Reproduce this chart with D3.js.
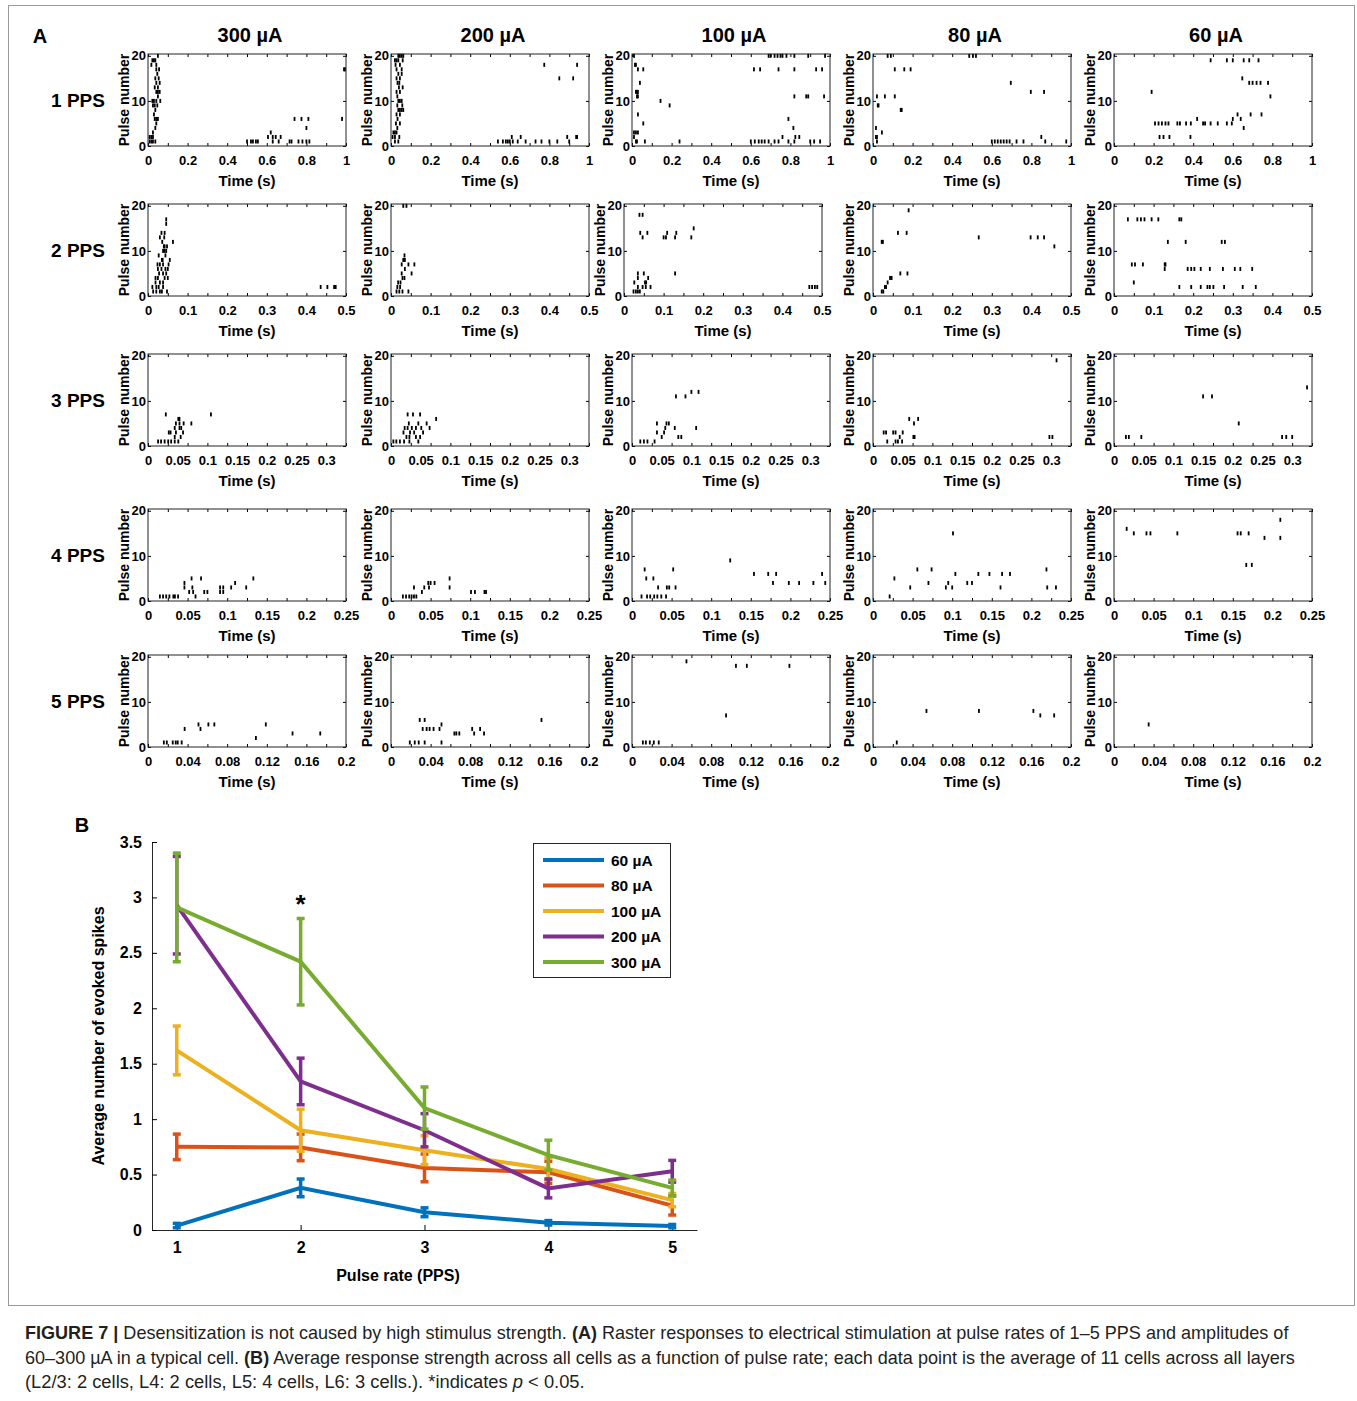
<!DOCTYPE html>
<html>
<head>
<meta charset="utf-8">
<script src="https://cdn.jsdelivr.net/npm/d3@7"></script>
<style>
  body { margin: 0; background: #fff; }
  text { font-family: Arial, 'Liberation Sans', sans-serif; }
</style>
</head>
<body>
<div id="chart"></div>
<script>
// ---------- panel A : raster data, [pulse number, [spike times (s)]] ----------
const ppsRows = ['1 PPS', '2 PPS', '3 PPS', '4 PPS', '5 PPS'];
const ampCols = ['300 µA', '200 µA', '100 µA', '80 µA', '60 µA'];
const rowDuration = [1, 0.5, 1 / 3, 0.25, 0.2];
const rowTickLabels = [
    [0, 0.2, 0.4, 0.6, 0.8, 1],
    [0, 0.1, 0.2, 0.3, 0.4, 0.5],
    [0, 0.05, 0.1, 0.15, 0.2, 0.25, 0.3],
    [0, 0.05, 0.1, 0.15, 0.2, 0.25],
    [0, 0.04, 0.08, 0.12, 0.16, 0.2]
];
const pulseTicks = [0, 10, 20];

const pps1_300 = [
    [20, [0.05]], [19, [0.022, 0.03, 0.037]], [18, [0.017, 0.042]], [17, [0.042, 0.056, 0.99, 0.995]],
    [16, [0.047]], [15, [0.037, 0.054]], [14, [0.042, 0.059]], [13, [0.034, 0.05]],
    [12, [0.042, 0.05, 0.059]], [11, [0.05]], [10, [0.022, 0.03, 0.042, 0.062]], [9, [0.025, 0.034, 0.047]],
    [8, [0.037]], [7, [0.03]], [6, [0.034, 0.042, 0.05, 0.74, 0.775, 0.81, 0.98]], [5, [0.042]],
    [4, [0.037, 0.8]], [3, [0.025, 0.62]], [2, [0.008, 0.017, 0.025, 0.606, 0.63, 0.645, 0.67]],
    [1, [0.008, 0.017, 0.025, 0.037, 0.5, 0.52, 0.53, 0.545, 0.555, 0.63, 0.66, 0.715, 0.725, 0.76, 0.78, 0.8, 0.815]]
];
const pps1_200 = [
    [20, [0.037, 0.045, 0.054, 0.062]], [19, [0.02, 0.028, 0.037, 0.059]], [18, [0.023, 0.045, 0.774, 0.94]],
    [17, [0.028, 0.054]], [16, [0.037, 0.054]], [15, [0.028, 0.045, 0.85, 0.92]], [14, [0.033, 0.042]],
    [13, [0.04, 0.059]], [12, [0.028, 0.045]], [11, [0.032]], [10, [0.037, 0.045, 0.054]],
    [9, [0.032, 0.057]], [8, [0.037, 0.045, 0.054, 0.062]], [7, [0.028, 0.045]], [6, [0.033]],
    [5, [0.025, 0.045]], [4, [0.032]], [3, [0.012, 0.02, 0.028]],
    [2, [0.008, 0.02, 0.042, 0.61, 0.655, 0.89, 0.935, 0.94]],
    [1, [0.02, 0.037, 0.54, 0.565, 0.58, 0.59, 0.6, 0.615, 0.64, 0.68, 0.73, 0.76, 0.8, 0.84, 0.9]]
];
const pps1_100 = [
    [20, [0.01, 0.69, 0.7, 0.72, 0.735, 0.75, 0.76, 0.78, 0.82, 0.89, 0.975]], [18, [0.015, 0.02]],
    [17, [0.03, 0.057, 0.616, 0.647, 0.74, 0.82, 0.93, 0.96]], [14, [0.04]], [12, [0.02, 0.025, 0.03]],
    [11, [0.025, 0.03, 0.82, 0.88, 0.89, 0.97]], [10, [0.144]], [9, [0.19]], [7, [0.03]], [6, [0.79]],
    [5, [0.057]], [4, [0.815]], [3, [0.01, 0.02, 0.03]], [2, [0.01, 0.76, 0.825, 0.845]],
    [1, [0.02, 0.025, 0.065, 0.24, 0.6, 0.62, 0.64, 0.655, 0.67, 0.69, 0.72, 0.74, 0.79, 0.82, 0.9, 0.92, 0.95]]
];
const pps1_80 = [
    [20, [0.074, 0.09, 0.486, 0.505, 0.52]], [17, [0.11, 0.158, 0.19]], [14, [0.696]], [12, [0.797, 0.864]],
    [11, [0.02, 0.06, 0.11]], [9, [0.024, 0.028]], [8, [0.14, 0.145]], [4, [0.015]], [3, [0.045]],
    [2, [0.015, 0.02, 0.85]], [1, [0.02, 0.6, 0.615, 0.63, 0.645, 0.66, 0.675, 0.69, 0.725, 0.76, 0.87, 0.976]]
];
const pps1_60 = [
    [19, [0.488, 0.57, 0.6, 0.655, 0.683, 0.73]], [15, [0.648]], [14, [0.683, 0.7, 0.72, 0.74, 0.778]],
    [12, [0.19]], [11, [0.79]], [7, [0.624, 0.69, 0.745]], [6, [0.42, 0.6, 0.64]],
    [5, [0.207, 0.225, 0.242, 0.26, 0.275, 0.32, 0.333, 0.364, 0.388, 0.45, 0.46, 0.488, 0.524, 0.57, 0.595]],
    [4, [0.655]], [2, [0.23, 0.25, 0.28, 0.386]]
];
const pps2_300 = [
    [17, [0.046]], [16, [0.046]], [14, [0.034, 0.042]], [13, [0.03, 0.041]], [12, [0.036, 0.063]],
    [11, [0.04, 0.042, 0.048]], [10, [0.038, 0.042, 0.046]], [9, [0.027, 0.044]], [8, [0.035, 0.037, 0.055]],
    [7, [0.024, 0.03, 0.038, 0.052]], [6, [0.025, 0.034, 0.044, 0.05]], [5, [0.028, 0.038, 0.046]],
    [4, [0.019, 0.025, 0.042, 0.05]], [3, [0.019, 0.03, 0.038]],
    [2, [0.011, 0.021, 0.027, 0.038, 0.436, 0.453, 0.47, 0.474]], [1, [0.013, 0.021, 0.03, 0.035, 0.048]]
];
const pps2_200 = [
    [20, [0.031, 0.039]], [9, [0.034]], [8, [0.031, 0.035]], [7, [0.027, 0.044, 0.059]], [6, [0.035]],
    [5, [0.027, 0.052]], [4, [0.029, 0.034]], [3, [0.018, 0.024]], [2, [0.016, 0.023]],
    [1, [0.014, 0.021, 0.029, 0.044]]
];
const pps2_100 = [
    [18, [0.039, 0.047]], [15, [0.176]], [14, [0.041, 0.059, 0.109, 0.132]], [13, [0.047, 0.1, 0.106, 0.129, 0.17]],
    [5, [0.035, 0.05, 0.129]], [4, [0.035, 0.061]], [3, [0.026, 0.053, 0.056]],
    [2, [0.035, 0.047, 0.055, 0.067, 0.468, 0.475, 0.482, 0.488]], [1, [0.024, 0.03, 0.035, 0.04]]
];
const pps2_80 = [
    [19, [0.09]], [14, [0.063, 0.085]], [13, [0.267, 0.398, 0.416, 0.432]], [12, [0.022, 0.025]], [11, [0.458]],
    [5, [0.069, 0.087]], [4, [0.043, 0.047]], [3, [0.037]], [2, [0.03, 0.033]], [1, [0.022, 0.026]]
];
const pps2_60 = [
    [17, [0.035, 0.059, 0.068, 0.077, 0.095, 0.112, 0.165, 0.17]], [12, [0.136, 0.181, 0.272, 0.28]],
    [7, [0.045, 0.053, 0.073, 0.128, 0.13]],
    [6, [0.128, 0.186, 0.195, 0.203, 0.219, 0.242, 0.275, 0.305, 0.319, 0.349]], [3, [0.05]],
    [2, [0.165, 0.195, 0.219, 0.236, 0.242, 0.251, 0.278, 0.325, 0.358]]
];
const pps3_300 = [
    [7, [0.03, 0.106]], [6, [0.051, 0.053]], [5, [0.047, 0.053, 0.06, 0.073]], [4, [0.045, 0.053, 0.056]],
    [3, [0.035, 0.038, 0.047, 0.059]], [2, [0.045, 0.055]], [1, [0.017, 0.022, 0.028, 0.034, 0.039, 0.045, 0.051]]
];
const pps3_200 = [
    [7, [0.028, 0.037, 0.049]], [6, [0.076]], [5, [0.03, 0.046, 0.06]], [4, [0.023, 0.028, 0.035, 0.042, 0.051, 0.065]],
    [3, [0.021, 0.032, 0.039, 0.054]], [2, [0.026, 0.031, 0.042, 0.049]], [1, [0.004, 0.009, 0.015, 0.022, 0.031, 0.046]]
];
const pps3_100 = [
    [12, [0.1, 0.112]], [11, [0.074, 0.09]], [5, [0.042, 0.058, 0.062]], [4, [0.056, 0.072, 0.108]],
    [3, [0.042, 0.054]], [2, [0.05, 0.078, 0.083]], [1, [0.014, 0.02, 0.026, 0.038]]
];
const pps3_80 = [
    [19, [0.309]], [6, [0.061, 0.076]], [5, [0.069]], [3, [0.018, 0.022, 0.034, 0.038, 0.05]],
    [2, [0.045, 0.068, 0.07, 0.297, 0.302]], [1, [0.024, 0.038, 0.042, 0.049]]
];
const pps3_60 = [
    [13, [0.325]], [11, [0.15, 0.165]], [5, [0.21]], [2, [0.02, 0.025, 0.046, 0.283, 0.29, 0.3]]
];
const pps4_300 = [
    [5, [0.055, 0.067, 0.133]], [4, [0.046, 0.11]], [3, [0.046, 0.056, 0.091, 0.095, 0.105, 0.124]],
    [2, [0.052, 0.057, 0.071, 0.075, 0.091, 0.095]], [1, [0.015, 0.019, 0.023, 0.027, 0.032, 0.034, 0.038, 0.06]]
];
const pps4_200 = [
    [5, [0.074]], [4, [0.047, 0.05, 0.055]], [3, [0.029, 0.042, 0.048, 0.074]],
    [2, [0.039, 0.101, 0.106, 0.118, 0.12]], [1, [0.015, 0.019, 0.023, 0.026, 0.029, 0.032]]
];
const pps4_100 = [
    [9, [0.124]], [7, [0.016, 0.052]], [6, [0.154, 0.172, 0.182, 0.24]], [5, [0.018, 0.027]],
    [4, [0.178, 0.198, 0.211, 0.229, 0.244]], [3, [0.033, 0.044, 0.047, 0.055]],
    [1, [0.012, 0.019, 0.023, 0.028, 0.032, 0.037, 0.043]]
];
const pps4_80 = [
    [15, [0.101]], [7, [0.056, 0.074, 0.219]], [6, [0.104, 0.133, 0.147, 0.163, 0.173]], [5, [0.027]],
    [4, [0.07, 0.095, 0.119, 0.125]], [3, [0.047, 0.092, 0.1, 0.161, 0.22, 0.231]], [1, [0.021]]
];
const pps4_60 = [
    [18, [0.21]], [16, [0.016]], [15, [0.025, 0.041, 0.046, 0.08, 0.156, 0.16, 0.17]], [14, [0.19, 0.21]],
    [8, [0.167, 0.174]]
];
const pps5_300 = [
    [5, [0.051, 0.061, 0.067, 0.119]], [4, [0.037, 0.053]], [3, [0.146, 0.174]], [2, [0.109]],
    [1, [0.016, 0.019, 0.025, 0.028, 0.03, 0.034]]
];
const pps5_200 = [
    [6, [0.029, 0.034, 0.152]], [5, [0.051]], [4, [0.032, 0.036, 0.039, 0.043, 0.049, 0.082, 0.09]],
    [3, [0.064, 0.066, 0.069, 0.084, 0.094]], [1, [0.019, 0.024, 0.028, 0.034, 0.051]]
];
const pps5_100 = [
    [19, [0.055]], [18, [0.105, 0.116, 0.159]], [7, [0.095]], [1, [0.011, 0.014, 0.018, 0.022, 0.027]]
];
const pps5_80 = [
    [8, [0.054, 0.107, 0.162]], [7, [0.169, 0.183]], [1, [0.024]]
];
const pps5_60 = [
    [5, [0.035]]
];

const rasterData = [
    [pps1_300, pps1_200, pps1_100, pps1_80, pps1_60],
    [pps2_300, pps2_200, pps2_100, pps2_80, pps2_60],
    [pps3_300, pps3_200, pps3_100, pps3_80, pps3_60],
    [pps4_300, pps4_200, pps4_100, pps4_80, pps4_60],
    [pps5_300, pps5_200, pps5_100, pps5_80, pps5_60]
];

// ---------- panel B : mean evoked spikes +- error ----------
const pulseRates = [1, 2, 3, 4, 5];
const ampLabels = ['60 µA', '80 µA', '100 µA', '200 µA', '300 µA'];
const ampColors = ['#0072BD', '#D95319', '#EDB120', '#7E2F8E', '#77AC30'];
const mean60 = [0.04, 0.38, 0.16, 0.065, 0.035];
const err60 = [0.02, 0.08, 0.04, 0.02, 0.015];
const mean80 = [0.75, 0.745, 0.56, 0.52, 0.22];
const err80 = [0.115, 0.12, 0.125, 0.1, 0.085];
const mean100 = [1.62, 0.9, 0.72, 0.55, 0.27];
const err100 = [0.22, 0.19, 0.13, 0.1, 0.06];
const mean200 = [2.93, 1.34, 0.9, 0.375, 0.53];
const err200 = [0.44, 0.21, 0.15, 0.085, 0.098];
const mean300 = [2.91, 2.42, 1.1, 0.675, 0.38];
const err300 = [0.49, 0.39, 0.19, 0.135, 0.07];
const yTicksB = [0, 0.5, 1, 1.5, 2, 2.5, 3, 3.5];

const W = 1357, H = 1401;
const svg = d3.select('#chart').append('svg')
    .attr('width', W)
    .attr('height', H);

svg.append('rect').attr('width', W).attr('height', H).attr('fill', '#fff');
svg.append('rect')
    .attr('x', 8.5).attr('y', 5.5)
    .attr('width', 1346).attr('height', 1300)
    .attr('fill', 'none')
    .attr('stroke', '#9a9a9a');

// ---------- panel A layout ----------
const colLeft = [148, 391, 632, 873, 1114];
const rowTop = [54, 204, 354, 509, 655];
const panelW = 198, panelH = 92;
const fmt = d3.format('~g');

svg.append('text').attr('x', 40).attr('y', 43)
    .attr('text-anchor', 'middle').attr('font-size', 20).attr('font-weight', 'bold')
    .text('A');

ampCols.forEach((a, c) => {
    svg.append('text')
        .attr('x', colLeft[c] + panelW / 2 + 3)
        .attr('y', 42)
        .attr('text-anchor', 'middle')
        .attr('font-size', 20)
        .attr('font-weight', 'bold')
        .text(a);
});
ppsRows.forEach((r, i) => {
    svg.append('text')
        .attr('x', 78)
        .attr('y', rowTop[i] + panelH / 2 + 7)
        .attr('text-anchor', 'middle')
        .attr('font-size', 19)
        .attr('font-weight', 'bold')
        .text(r);
});

function styleAxis(g, size) {
    g.attr('font-family', 'Arial, "Liberation Sans", sans-serif')
        .attr('font-size', size)
        .attr('font-weight', 'bold');
    g.select('.domain').remove();
}

function drawRaster(row, col) {
    const dur = rowDuration[row];
    // the 2 PPS / 100 µA axes sit slightly left in the original figure
    const left = colLeft[col] + (row === 1 && col === 2 ? -8 : 0);
    const top = rowTop[row];

    const x = d3.scaleLinear().domain([0, dur]).range([0, panelW]);
    const y = d3.scaleLinear().domain([0, 20.4]).range([panelH, 0]);

    const g = svg.append('g').attr('transform', `translate(${left},${top})`);

    const spikes = rasterData[row][col].flatMap(([p, ts]) => ts.map(t => ({ p, t })));
    g.selectAll('rect.spike')
        .data(spikes)
        .enter()
        .append('rect')
        .attr('class', 'spike')
        .attr('x', d => x(d.t) - 0.9)
        .attr('y', d => y(d.p) - 2)
        .attr('width', 1.8)
        .attr('height', 4)
        .attr('fill', '#000');

    // inward ticks on all four sides (ten equal steps on time axis)
    const minor = d3.range(11).map(i => i * dur / 10);
    g.append('g').attr('transform', `translate(0,${panelH})`)
        .call(d3.axisTop(x).tickValues(minor).tickSize(3).tickFormat(''))
        .call(s => s.select('.domain').remove());
    g.append('g')
        .call(d3.axisBottom(x).tickValues(minor).tickSize(3).tickFormat(''))
        .call(s => s.select('.domain').remove());
    g.append('g')
        .call(d3.axisRight(y).tickValues(pulseTicks).tickSize(3).tickFormat(''))
        .call(s => s.select('.domain').remove());
    g.append('g').attr('transform', `translate(${panelW},0)`)
        .call(d3.axisLeft(y).tickValues(pulseTicks).tickSize(3).tickFormat(''))
        .call(s => s.select('.domain').remove());

    // tick labels
    g.append('g').attr('transform', `translate(0,${panelH})`)
        .call(d3.axisBottom(x).tickValues(rowTickLabels[row]).tickSize(0).tickPadding(10).tickFormat(fmt))
        .call(s => styleAxis(s, 13));
    g.append('g')
        .call(d3.axisLeft(y).tickValues(pulseTicks).tickSize(0).tickPadding(2))
        .call(s => styleAxis(s, 13));

    g.append('rect')
        .attr('width', panelW)
        .attr('height', panelH)
        .attr('fill', 'none')
        .attr('stroke', '#222')
        .attr('stroke-width', 1);

    g.append('text')
        .attr('transform', `translate(-19,${panelH / 2}) rotate(-90)`)
        .attr('text-anchor', 'middle')
        .attr('font-size', 14)
        .attr('font-weight', 'bold')
        .text('Pulse number');
    g.append('text')
        .attr('x', panelW / 2)
        .attr('y', panelH + 40)
        .attr('text-anchor', 'middle')
        .attr('font-size', 15)
        .attr('font-weight', 'bold')
        .text('Time (s)');
}

for (let r = 0; r < 5; r++) {
    for (let c = 0; c < 5; c++) drawRaster(r, c);
}

// ---------- panel B ----------
svg.append('text').attr('x', 82).attr('y', 832)
    .attr('text-anchor', 'middle').attr('font-size', 20).attr('font-weight', 'bold')
    .text('B');

const xB = d3.scaleLinear().domain([0.8, 5.2]).range([152, 697]);
const yB = d3.scaleLinear().domain([0, 3.5]).range([1230, 842]);

const gB = svg.append('g');
gB.append('g').attr('transform', 'translate(0,1230)')
    .call(d3.axisBottom(xB).tickValues(pulseRates).tickSizeInner(-5).tickSizeOuter(0).tickPadding(12).tickFormat(fmt))
    .call(s => s.attr('font-family', 'Arial, "Liberation Sans", sans-serif').attr('font-size', 16).attr('font-weight', 'bold'))
    .call(s => s.select('.domain').attr('stroke', '#262626'));
gB.append('g').attr('transform', 'translate(152,0)')
    .call(d3.axisLeft(yB).tickValues(yTicksB).tickSizeInner(-5).tickSizeOuter(0).tickPadding(10).tickFormat(fmt))
    .call(s => s.attr('font-family', 'Arial, "Liberation Sans", sans-serif').attr('font-size', 16).attr('font-weight', 'bold'))
    .call(s => s.select('.domain').attr('stroke', '#262626'));

gB.append('text')
    .attr('x', 398).attr('y', 1281)
    .attr('text-anchor', 'middle')
    .attr('font-size', 16).attr('font-weight', 'bold')
    .text('Pulse rate (PPS)');
gB.append('text')
    .attr('transform', 'translate(104,1036) rotate(-90)')
    .attr('text-anchor', 'middle')
    .attr('font-size', 16).attr('font-weight', 'bold')
    .text('Average number of evoked spikes');

const means = [mean60, mean80, mean100, mean200, mean300];
const errs = [err60, err80, err100, err200, err300];
const line = d3.line().x(d => xB(d[0])).y(d => yB(d[1]));

means.forEach((m, i) => {
    const pts = pulseRates.map((p, j) => [p, m[j], errs[i][j]]);
    const color = ampColors[i];
    const eb = gB.append('g').attr('stroke', color);
    eb.selectAll('line.bar').data(pts).enter().append('line')
        .attr('x1', d => xB(d[0])).attr('x2', d => xB(d[0]))
        .attr('y1', d => yB(d[1] - d[2])).attr('y2', d => yB(d[1] + d[2]))
        .attr('stroke-width', 3.5);
    eb.selectAll('line.capTop').data(pts).enter().append('line')
        .attr('x1', d => xB(d[0]) - 4).attr('x2', d => xB(d[0]) + 4)
        .attr('y1', d => yB(d[1] + d[2])).attr('y2', d => yB(d[1] + d[2]))
        .attr('stroke-width', 3.5);
    eb.selectAll('line.capBot').data(pts).enter().append('line')
        .attr('x1', d => xB(d[0]) - 4).attr('x2', d => xB(d[0]) + 4)
        .attr('y1', d => yB(d[1] - d[2])).attr('y2', d => yB(d[1] - d[2]))
        .attr('stroke-width', 3.5);
    gB.append('path')
        .datum(pts)
        .attr('d', line)
        .attr('fill', 'none')
        .attr('stroke', color)
        .attr('stroke-width', 4);
});

// significance marker at 2 PPS
gB.append('text')
    .attr('x', xB(2)).attr('y', 913)
    .attr('text-anchor', 'middle')
    .attr('font-size', 26).attr('font-weight', 'bold')
    .text('*');

// legend
const lg = gB.append('g');
lg.append('rect')
    .attr('x', 533.5).attr('y', 843.5)
    .attr('width', 137).attr('height', 134)
    .attr('fill', '#fff').attr('stroke', '#262626');
ampLabels.forEach((lab, i) => {
    const yy = 860 + i * 25.5;
    lg.append('line')
        .attr('x1', 543).attr('x2', 604)
        .attr('y1', yy).attr('y2', yy)
        .attr('stroke', ampColors[i]).attr('stroke-width', 4);
    lg.append('text')
        .attr('x', 611).attr('y', yy + 5.5)
        .attr('font-size', 15.5).attr('font-weight', 'bold')
        .text(lab);
});

// ---------- caption ----------
const capFont = "'Liberation Sans Narrow', 'Liberation Sans', Arial, sans-serif";
const capLines = [
    { y: 1339, w: 1265, parts: [
        ['FIGURE 7 | ', 'bold'], ['Desensitization is not caused by high stimulus strength. ', ''], ['(A)', 'bold'],
        [' Raster responses to electrical stimulation at pulse rates of 1–5 PPS and amplitudes of', '']] },
    { y: 1364, w: 1271, parts: [
        ['60–300 µA in a typical cell. ', ''], ['(B)', 'bold'],
        [' Average response strength across all cells as a function of pulse rate; each data point is the average of 11 cells across all layers', '']] },
    { y: 1388, w: 560, parts: [
        ['(L2/3: 2 cells, L4: 2 cells, L5: 4 cells, L6: 3 cells.). *indicates ', ''], ['p', 'italic'], [' < 0.05.', '']] }
];
capLines.forEach(cl => {
    const t = svg.append('text')
        .attr('x', 25).attr('y', cl.y)
        .attr('font-family', capFont)
        .attr('font-size', 18)
        .attr('fill', '#231f20');
    cl.parts.forEach(([s, st]) => {
        const ts = t.append('tspan').text(s).style('font-family', capFont);
        if (st === 'bold') ts.attr('font-weight', 'bold');
        if (st === 'italic') ts.attr('font-style', 'italic');
    });
    const w = t.node().getComputedTextLength();
    t.attr('transform', `translate(25,0) scale(${cl.w / w},1) translate(-25,0)`);
});
</script>
</body>
</html>
